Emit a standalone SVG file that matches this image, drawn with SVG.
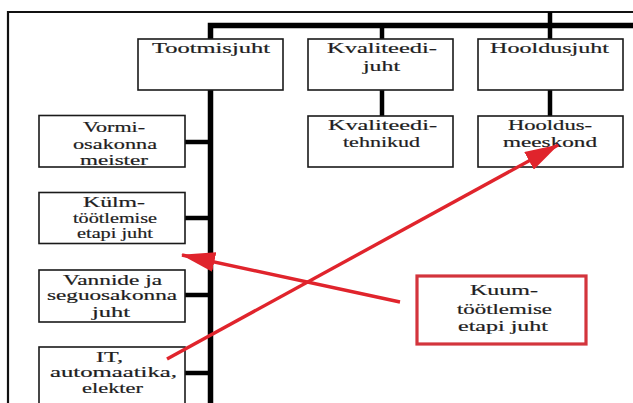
<svg xmlns="http://www.w3.org/2000/svg" width="633" height="403" viewBox="0 0 633 403">
  <style>
    .box { fill: #ffffff; stroke: #1a1a1a; stroke-width: 1.6; }
    .hot { fill: #ffffff; stroke: #d3343c; stroke-width: 3.2; }
    .frame { stroke: #111111; stroke-width: 2.2; fill: none; }
    .bar { stroke: #000000; stroke-width: 5.5; fill: none; }
    .link { stroke: #000000; stroke-width: 4.5; fill: none; }
    .red { stroke: #e0242c; stroke-width: 3.4; fill: none; }
    text { font-family: "Liberation Serif", "Times New Roman", serif; font-size: 14.5px; fill: #1e1e1e; stroke: #1e1e1e; stroke-width: 0.2; text-anchor: middle; }
  </style>
  <defs>
    <marker id="head" markerUnits="userSpaceOnUse" viewBox="0 -10 34 20" refX="33" refY="0" markerWidth="34" markerHeight="20" orient="auto">
      <path d="M0,-10 L34,0 L0,10 Z" fill="#e0242c"/>
    </marker>
  </defs>
  <rect width="633" height="403" fill="#ffffff"/>

  <!-- page frame -->
  <path class="frame" d="M8,403 V12 H633"/>

  <!-- org chart lines -->
  <g id="connectors">
    <path class="bar" d="M210.5,403 V25.5 H633"/>
    <path class="link" d="M382,25.5 V116"/>
    <path class="link" d="M550,12 V116"/>
    <path class="link" d="M185,142 H210"/>
    <path class="link" d="M185,218 H210"/>
    <path class="link" d="M185,295 H210"/>
    <path class="link" d="M185,373 H210"/>
  </g>

  <g id="tootmisjuht">
    <rect class="box" x="138" y="39" width="145" height="51"/>
    <text x="211" y="53" textLength="118" lengthAdjust="spacingAndGlyphs">Tootmisjuht</text>
  </g>

  <g id="kvaliteedijuht">
    <rect class="box" x="308" y="39" width="145" height="51"/>
    <text x="382" y="53" textLength="110" lengthAdjust="spacingAndGlyphs">Kvaliteedi-</text>
    <text x="381.5" y="71" textLength="37" lengthAdjust="spacingAndGlyphs">juht</text>
  </g>

  <g id="hooldusjuht">
    <rect class="box" x="478" y="39" width="145" height="51"/>
    <text x="549.5" y="53" textLength="119" lengthAdjust="spacingAndGlyphs">Hooldusjuht</text>
  </g>

  <g id="kvaliteeditehnikud">
    <rect class="box" x="308" y="116" width="145" height="51"/>
    <text x="382.5" y="130" textLength="109" lengthAdjust="spacingAndGlyphs">Kvaliteedi-</text>
    <text x="381.5" y="147" textLength="77" lengthAdjust="spacingAndGlyphs">tehnikud</text>
  </g>

  <g id="hooldusmeeskond">
    <rect class="box" x="478" y="116" width="145" height="51"/>
    <text x="550" y="130" textLength="84" lengthAdjust="spacingAndGlyphs">Hooldus-</text>
    <text x="550" y="147" textLength="94" lengthAdjust="spacingAndGlyphs">meeskond</text>
  </g>

  <g id="vormiosakond">
    <rect class="box" x="39" y="115.5" width="146" height="51.5"/>
    <text x="114" y="132" textLength="62" lengthAdjust="spacingAndGlyphs">Vormi-</text>
    <text x="115" y="149" textLength="84" lengthAdjust="spacingAndGlyphs">osakonna</text>
    <text x="114" y="165" textLength="68" lengthAdjust="spacingAndGlyphs">meister</text>
  </g>

  <g id="kylmtootlemine">
    <rect class="box" x="39" y="192.5" width="146" height="51"/>
    <text x="114" y="207" textLength="62" lengthAdjust="spacingAndGlyphs">Külm-</text>
    <text x="115" y="223" textLength="84" lengthAdjust="spacingAndGlyphs">töötlemise</text>
    <text x="115" y="238" textLength="76" lengthAdjust="spacingAndGlyphs">etapi juht</text>
  </g>

  <g id="vannid">
    <rect class="box" x="39" y="270" width="146" height="52"/>
    <text x="112.5" y="285" textLength="99" lengthAdjust="spacingAndGlyphs">Vannide ja</text>
    <text x="112" y="300" textLength="130" lengthAdjust="spacingAndGlyphs">seguosakonna</text>
    <text x="111" y="317" textLength="38" lengthAdjust="spacingAndGlyphs">juht</text>
  </g>

  <g id="it">
    <rect class="box" x="39" y="347" width="146" height="60"/>
    <text x="109.5" y="362" textLength="27" lengthAdjust="spacingAndGlyphs">IT,</text>
    <text x="113.5" y="377" textLength="127" lengthAdjust="spacingAndGlyphs">automaatika,</text>
    <text x="112.5" y="393" textLength="61" lengthAdjust="spacingAndGlyphs">elekter</text>
  </g>

  <g id="kuumtootlemine">
    <rect class="hot" x="417" y="276" width="169" height="68"/>
    <text x="504" y="295" textLength="68" lengthAdjust="spacingAndGlyphs">Kuum-</text>
    <text x="504.5" y="314" textLength="95" lengthAdjust="spacingAndGlyphs">töötlemise</text>
    <text x="503" y="331" textLength="90" lengthAdjust="spacingAndGlyphs">etapi juht</text>
  </g>

  <!-- red pointers -->
  <g id="pointers">
    <line class="red" x1="400" y1="302" x2="182" y2="255" marker-end="url(#head)"/>
    <line class="red" x1="167" y1="359" x2="558" y2="145" marker-end="url(#head)"/>
  </g>
</svg>
